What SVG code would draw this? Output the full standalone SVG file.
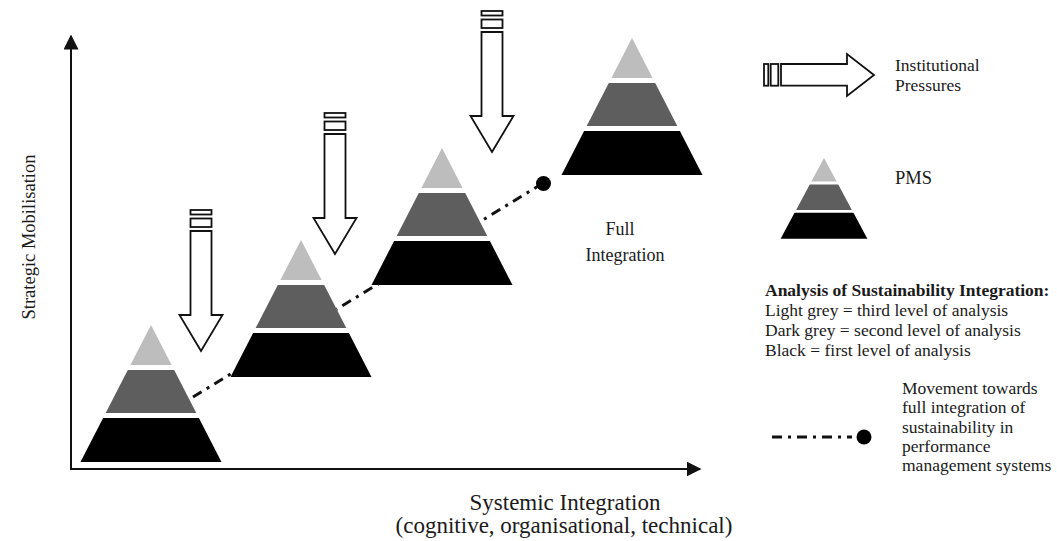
<svg xmlns="http://www.w3.org/2000/svg" xmlns:xlink="http://www.w3.org/1999/xlink" width="1057" height="541" viewBox="0 0 1057 541">
  <style>
    text { font-family: "Liberation Serif", "Times New Roman", serif; font-size: 17.5px; fill: #1a1a1a; }
    .bold { font-weight: bold; }
    .axis-label { font-size: 23px; }
    .axis { stroke: #111; stroke-width: 2; fill: none; }
    .press { fill: #fff; stroke: #111; stroke-width: 1.8; stroke-linejoin: miter; }
    .move { stroke: #111; stroke-width: 3; fill: none; stroke-dasharray: 10 6 3 6; }
    .light { fill: #bdbdbd; }
    .dark { fill: #5e5e5e; }
    .black { fill: #000; }
  </style>
  <defs>
    <marker id="axisHead" viewBox="0 0 10 10" refX="9" refY="5" markerWidth="7.5" markerHeight="7.5" markerUnits="strokeWidth" orient="auto">
      <path d="M0,0 L10,5 L0,10 Z" fill="#111"/>
    </marker>
    <!-- three-tier PMS pyramid, apex at origin -->
    <g id="pyramid">
      <polygon points="0,0 70.5,137 -70.5,137" fill="#fff"/>
      <polygon class="light" points="0,0 20.6,40 -20.6,40"/>
      <polygon class="dark" points="-23.2,45 23.2,45 45.3,88 -45.3,88"/>
      <polygon class="black" points="-47.9,93 47.9,93 70.5,137 -70.5,137"/>
    </g>
    <!-- downward institutional-pressure arrow, origin at top centre -->
    <g id="pressure">
      <rect class="press" x="-10.5" y="0" width="21" height="4.5"/>
      <rect class="press" x="-10.5" y="8.5" width="21" height="8.5"/>
      <path class="press" d="M-10.5,21 V105 H-21.5 L0,141 L21.5,105 H10.5 V21 Z"/>
    </g>
  </defs>

  <rect width="1057" height="541" fill="#fff"/>

  <!-- axes -->
  <g id="axes">
    <line class="axis" x1="71" y1="469" x2="71" y2="36" marker-end="url(#axisHead)"/>
    <line class="axis" x1="70" y1="469" x2="700" y2="469" marker-end="url(#axisHead)"/>
    <text transform="translate(35,237) rotate(-90)" text-anchor="middle" style="font-size:18.5px">Strategic Mobilisation</text>
    <text class="axis-label" x="565" y="510" text-anchor="middle">Systemic Integration</text>
    <text class="axis-label" x="564" y="533" text-anchor="middle">(cognitive, organisational, technical)</text>
  </g>

  <!-- movement towards full integration -->
  <g id="connectors">
    <line class="move" x1="193" y1="397" x2="540" y2="185"/>
    <circle cx="543.5" cy="183.5" r="7.5" fill="#000"/>
  </g>

  <g id="pms-1"><use xlink:href="#pyramid" x="151" y="325"/></g>
  <g id="pms-2"><use xlink:href="#pyramid" x="301" y="240"/></g>
  <g id="pms-3"><use xlink:href="#pyramid" x="442" y="148"/></g>
  <g id="pms-4"><use xlink:href="#pyramid" x="632" y="38"/></g>

  <g id="pressure-1"><use xlink:href="#pressure" x="201" y="210"/></g>
  <g id="pressure-2"><use xlink:href="#pressure" x="335" y="113"/></g>
  <g id="pressure-3"><use xlink:href="#pressure" x="492" y="11"/></g>

  <g id="full-integration">
    <text x="620" y="235" text-anchor="middle" style="font-size:18px">Full</text>
    <text x="625" y="261" text-anchor="middle" style="font-size:18px">Integration</text>
  </g>

  <!-- legend -->
  <g id="legend-pressures">
    <rect class="press" x="764" y="64" width="4.3" height="21.7"/>
    <rect class="press" x="770.7" y="64" width="7.6" height="21.7"/>
    <path class="press" d="M781,64 H847 V54 L874,75 L847,96 V85.7 H781 Z"/>
    <text x="895" y="71">Institutional</text>
    <text x="895" y="91">Pressures</text>
  </g>

  <g id="legend-pms">
    <use xlink:href="#pyramid" transform="translate(824,158) scale(0.615,0.59)"/>
    <text x="895" y="184" style="font-size:18.5px">PMS</text>
  </g>

  <g id="legend-levels">
    <text class="bold" x="765" y="296">Analysis of Sustainability Integration:</text>
    <text x="765" y="316">Light grey = third level of analysis</text>
    <text x="765" y="336">Dark grey = second level of analysis</text>
    <text x="765" y="356">Black = first level of analysis</text>
  </g>

  <g id="legend-movement">
    <line class="move" x1="772" y1="437" x2="852" y2="437"/>
    <circle cx="864" cy="437" r="7.5" fill="#000"/>
    <text x="902" y="394">Movement towards</text>
    <text x="902" y="413">full integration of</text>
    <text x="902" y="433">sustainability in</text>
    <text x="902" y="452">performance</text>
    <text x="902" y="471">management systems</text>
  </g>
</svg>
